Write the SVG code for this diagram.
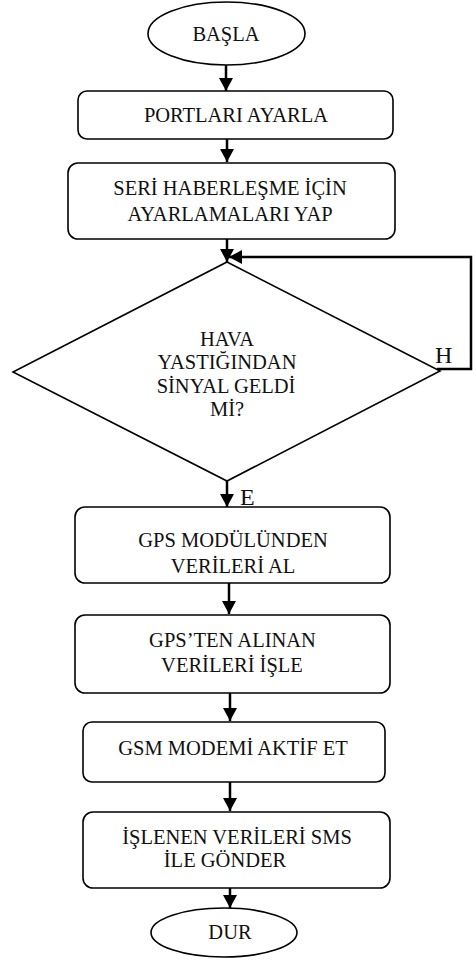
<svg xmlns="http://www.w3.org/2000/svg" width="476" height="967" viewBox="0 0 476 967">
<style>
.shape{fill:#fff;stroke:#000;stroke-width:1.6}
.t{font-family:"Liberation Serif","Times New Roman",serif;font-size:20.5px;fill:#111;text-anchor:middle}
.lbl{font-family:"Liberation Serif","Times New Roman",serif;font-size:24px;fill:#111}
.c{fill:none;stroke:#000;stroke-width:2.5}
</style>
<defs>
<marker id="ah" markerUnits="userSpaceOnUse" markerWidth="14" markerHeight="14" refX="13" refY="7" orient="auto">
<path d="M0,0 L13,7 L0,14 z" fill="#000"/>
</marker>
</defs>
<rect width="476" height="967" fill="#fff"/>
<g id="connectors">
<line class="c" x1="226" y1="65" x2="226" y2="91" marker-end="url(#ah)"/>
<line class="c" x1="227" y1="139" x2="227" y2="162" marker-end="url(#ah)"/>
<line class="c" x1="227" y1="239" x2="227" y2="262" marker-end="url(#ah)"/>
<polyline class="c" points="437,369 471,369 471,257 229,257" marker-end="url(#ah)"/>
<line class="c" x1="227" y1="481" x2="227" y2="507" marker-end="url(#ah)"/>
<line class="c" x1="229" y1="583" x2="229" y2="614" marker-end="url(#ah)"/>
<line class="c" x1="230" y1="693" x2="230" y2="721" marker-end="url(#ah)"/>
<line class="c" x1="230" y1="782" x2="230" y2="811" marker-end="url(#ah)"/>
<line class="c" x1="230" y1="888" x2="230" y2="908" marker-end="url(#ah)"/>
<text class="lbl" x="435" y="363">H</text>
<text class="lbl" x="240" y="505">E</text>
</g>
<g id="basla">
<ellipse class="shape" cx="226.5" cy="33.5" rx="78.5" ry="31.5"/>
<text class="t" x="226" y="41">BAŞLA</text>
</g>
<g id="portlari">
<rect class="shape" x="78" y="91" width="315" height="48" rx="9"/>
<text class="t" x="236" y="122">PORTLARI AYARLA</text>
</g>
<g id="seri">
<rect class="shape" x="68" y="163" width="327" height="76" rx="10"/>
<text class="t" x="230" y="195">SERİ HABERLEŞME İÇİN</text>
<text class="t" x="230" y="221">AYARLAMALARI YAP</text>
</g>
<g id="karar">
<polygon class="shape" points="227,262 440,371 227,481 13,372"/>
<text class="t" x="227" y="346">HAVA</text>
<text class="t" x="227" y="369">YASTIĞINDAN</text>
<text class="t" x="226" y="393">SİNYAL GELDİ</text>
<text class="t" x="227" y="416">Mİ?</text>
</g>
<g id="gps">
<rect class="shape" x="75" y="507" width="315" height="76" rx="10"/>
<text class="t" x="233" y="547">GPS MODÜLÜNDEN</text>
<text class="t" x="233" y="573">VERİLERİ AL</text>
</g>
<g id="gpsten">
<rect class="shape" x="75" y="615" width="315" height="78" rx="10"/>
<text class="t" x="232.5" y="647">GPS’TEN ALINAN</text>
<text class="t" x="232" y="672">VERİLERİ İŞLE</text>
</g>
<g id="gsm">
<rect class="shape" x="83" y="722" width="302" height="60" rx="9"/>
<text class="t" x="233" y="755">GSM MODEMİ AKTİF ET</text>
</g>
<g id="islenen">
<rect class="shape" x="83" y="812" width="307" height="76" rx="10"/>
<text class="t" x="237" y="844">İŞLENEN VERİLERİ SMS</text>
<text class="t" x="225" y="867">İLE GÖNDER</text>
</g>
<g id="dur">
<ellipse class="shape" cx="224" cy="932.5" rx="73" ry="24.5"/>
<text class="t" x="230" y="939">DUR</text>
</g>
</svg>
